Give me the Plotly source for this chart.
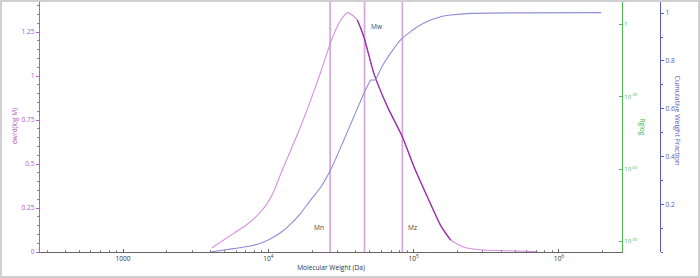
import numpy as np
import plotly.graph_objects as go

# ---- data ----
dist_logM = [3.612, 3.761, 3.850, 3.933, 3.991, 4.040, 4.083, 4.152, 4.221,
             4.290, 4.359, 4.428, 4.485, 4.547, 4.612, 4.657, 4.726, 4.819,
             4.922, 5.002, 5.094, 5.186, 5.255, 5.347, 5.485, 5.692, 5.853]
dist_val = [0.024, 0.106, 0.155, 0.215, 0.275, 0.350, 0.440, 0.575, 0.712,
            0.860, 1.020, 1.190, 1.300, 1.360, 1.318, 1.223, 1.015, 0.826,
            0.655, 0.485, 0.314, 0.150, 0.068, 0.027, 0.011, 0.006, 0.002]
peak_index = 13
tail_index = 22

cum_logM = [3.600, 3.761, 3.876, 3.968, 4.037, 4.106, 4.163, 4.221, 4.290,
            4.359, 4.428, 4.519, 4.588, 4.657, 4.703, 4.738, 4.795, 4.910,
            5.026, 5.117, 5.186, 5.255, 5.393, 6.290]
cum_val = [0.000, 0.014, 0.025, 0.042, 0.063, 0.091, 0.123, 0.161, 0.217,
           0.270, 0.343, 0.468, 0.566, 0.664, 0.720, 0.720, 0.790, 0.888,
           0.943, 0.971, 0.985, 0.992, 0.999, 1.002]
flat_start = 14

avg_names = ["Mn", "Mw", "Mz"]
avg_values = [26600, 45900, 83600]
avg_label_y = [0.142, 1.284, 0.142]
avg_label_side = ["right", "left", "left"]

x_tickvals = [1000, 1e4, 1e5, 1e6]
x_ticktext = ["1000", "10<sup>4</sup>", "10<sup>5</sup>", "10<sup>6</sup>"]
y_tickvals = [0, 0.25, 0.5, 0.75, 1, 1.25]
y_ticktext = ["0", "0.25", "0.5", "0.75", "1", "1.25"]
rg_tickvals = [1, 1e-30, 1e-60, 1e-90]
rg_ticktext = ["1", "10<sup>-30</sup>", "10<sup>-60</sup>", "10<sup>-90</sup>"]
cum_tickvals = [0.2, 0.4, 0.6, 0.8, 1]
cum_ticktext = ["0.2", "0.4", "0.6", "0.8", "1"]

PURPLE = "#b45cc2"
LIGHT = "#d690df"
DARK = "#9a2ea8"
BLUE = "#5a5ab8"
CUMC = "#8e8ed8"
GREEN = "#4cb84c"
VLINE = "#d6a6de"
FONT = "Open Sans"
FS = 6.6

dM = [10 ** v for v in dist_logM]
cM = [10 ** v for v in cum_logM]

fig = go.Figure()

# vertical average lines
for name, val in zip(avg_names, avg_values):
    fig.add_trace(go.Scatter(x=[val, val], y=[0, 1.45], mode="lines",
                             line=dict(color=VLINE, width=1.7),
                             showlegend=False, hoverinfo="skip"))

# distribution curve: full light curve, darker overlay on the descending part
fig.add_trace(go.Scatter(x=dM, y=dist_val,
                         mode="lines", line=dict(color=LIGHT, width=1.1, shape="spline", smoothing=0.6),
                         showlegend=False))
fig.add_trace(go.Scatter(x=dM[peak_index + 1:tail_index + 1], y=dist_val[peak_index + 1:tail_index + 1],
                         mode="lines", line=dict(color=DARK, width=1.3, shape="spline", smoothing=0.6),
                         showlegend=False))

# Rg axis placeholder trace
fig.add_trace(go.Scatter(x=[], y=[], yaxis="y2", showlegend=False))

# cumulative curve (rising part, short flat step, rising part)
fig.add_trace(go.Scatter(x=cM[:flat_start + 1], y=cum_val[:flat_start + 1], yaxis="y3",
                         mode="lines", line=dict(color=CUMC, width=1.1, shape="spline", smoothing=0.6),
                         showlegend=False))
fig.add_trace(go.Scatter(x=cM[flat_start:flat_start + 2], y=cum_val[flat_start:flat_start + 2], yaxis="y3",
                         mode="lines", line=dict(color=CUMC, width=1.1),
                         showlegend=False))
fig.add_trace(go.Scatter(x=cM[flat_start + 1:], y=cum_val[flat_start + 1:], yaxis="y3",
                         mode="lines", line=dict(color=CUMC, width=1.1, shape="spline", smoothing=0.6),
                         showlegend=False))

# labels
for name, val, ly, side in zip(avg_names, avg_values, avg_label_y, avg_label_side):
    fig.add_annotation(x=np.log10(val), y=ly, xref="x", yref="y", text=name,
                       showarrow=False, xanchor=side,
                       xshift=-4 if side == "right" else 4,
                       font=dict(family=FONT, size=FS, color="#444444"))

xdom_end = (622 - 40) / 620

minor_x = [m * 10 ** e for e in range(2, 7) for m in range(2, 10)]

fig.update_layout(
    width=700, height=278,
    margin=dict(l=40, r=40, t=0, b=26),
    paper_bgcolor="white", plot_bgcolor="white",
    font=dict(family=FONT, size=FS, color="#333333"),
    xaxis=dict(type="log", domain=[0, xdom_end],
               range=[2.428, 6.434],
               tickvals=x_tickvals, ticktext=x_ticktext,
               ticks="inside", ticklen=3, tickcolor="#666666",
               minor=dict(tickvals=minor_x, ticks="inside", ticklen=2, tickcolor="#888888"),
               showline=True, linecolor="#666666", linewidth=1,
               showgrid=False, zeroline=False,
               tickfont=dict(size=FS, color="#333333"),
               title=dict(text="Molecular Weight (Da)", font=dict(size=FS, color="#333333"),
                          standoff=3)),
    yaxis=dict(range=[0, 1.432], tickvals=y_tickvals, ticktext=y_ticktext,
               ticks="outside", ticklen=3, tickcolor=PURPLE,
               minor=dict(dtick=0.05, ticks="outside", ticklen=2, tickcolor=PURPLE),
               showline=True, linecolor=PURPLE, linewidth=1.2,
               showgrid=False, zeroline=False,
               tickfont=dict(size=FS, color=PURPLE),
               title=dict(text="dw/d(log M)", font=dict(size=FS, color=PURPLE), standoff=3)),
    yaxis2=dict(type="log", overlaying="y", side="right", anchor="x",
                range=[-94.4, 10.1], tickvals=rg_tickvals, ticktext=rg_ticktext,
                ticks="inside", ticklen=3, tickcolor=GREEN,
                showline=True, linecolor=GREEN, linewidth=1.2,
                showgrid=False, zeroline=False,
                tickfont=dict(size=6, color=GREEN)),
    yaxis3=dict(overlaying="y", side="right", anchor="free", position=1.0,
                range=[0, 1.055], tickvals=cum_tickvals, ticktext=cum_ticktext,
                ticks="outside", ticklen=3, tickcolor=BLUE,
                minor=dict(dtick=0.1, ticks="outside", ticklen=2, tickcolor=BLUE),
                showline=True, linecolor=BLUE, linewidth=1.2,
                showgrid=False, zeroline=False,
                tickfont=dict(size=FS, color=BLUE)),
)

# right-hand axis titles (read top to bottom)
fig.add_annotation(x=(649 - 40) / 620, y=(252 - 127) / 252, xref="paper", yref="paper",
                   text="Rglog", textangle=90, showarrow=False,
                   font=dict(family=FONT, size=FS, color=GREEN))
fig.add_annotation(x=(684 - 40) / 620, y=(252 - 120) / 252, xref="paper", yref="paper",
                   text="Cumulative Weight Fraction", textangle=90, showarrow=False,
                   font=dict(family=FONT, size=7, color=BLUE))

# outer frame
fig.add_shape(type="rect", xref="paper", yref="paper",
              x0=(1 - 40) / 620, x1=(699 - 40) / 620,
              y0=(252 - 277) / 252, y1=(252 - 1) / 252,
              line=dict(color="#d0d0d0", width=2), layer="above")

fig.write_html("out.html")
